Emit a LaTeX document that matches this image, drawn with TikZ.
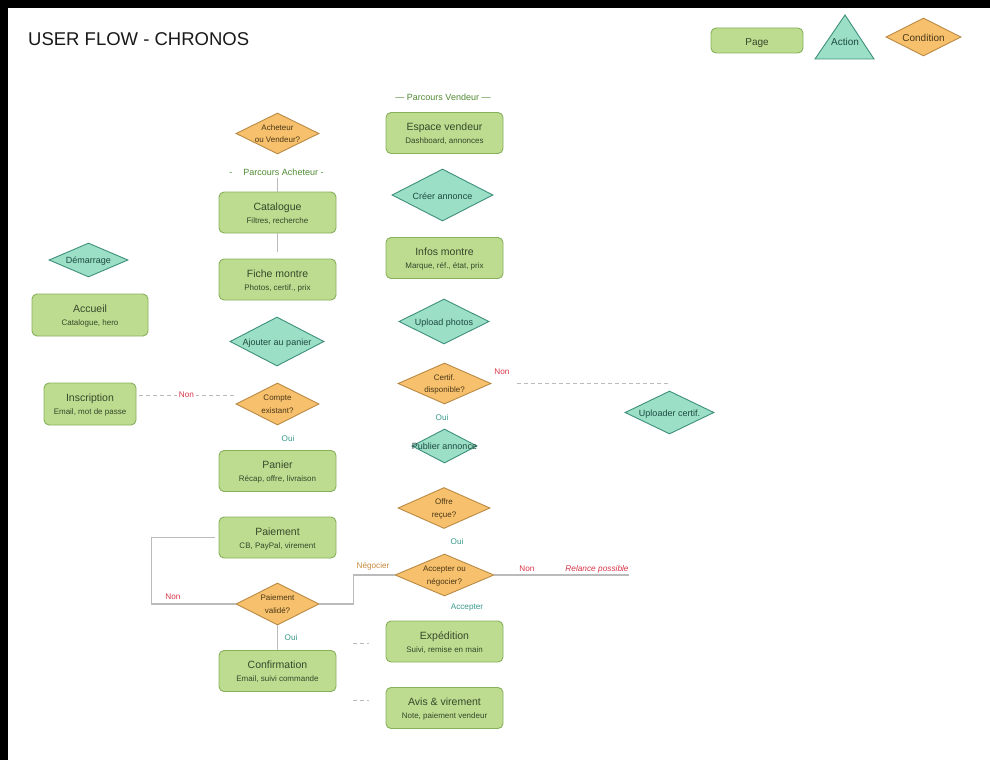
\documentclass[tikz,border=0pt]{standalone}
\usepackage{fontspec}
\setmainfont{Liberation Sans}
\usetikzlibrary{shapes.geometric,calc}
\definecolor{pagef}{HTML}{BEDC90}
\definecolor{pageb}{HTML}{86B05A}
\definecolor{paget}{HTML}{34482A}
\definecolor{actf}{HTML}{9ADFC6}
\definecolor{actb}{HTML}{3E8F7C}
\definecolor{actt}{HTML}{1F4A40}
\definecolor{condf}{HTML}{F7C06C}
\definecolor{condb}{HTML}{B98A45}
\definecolor{condt}{HTML}{4A3818}
\definecolor{lgray}{HTML}{BBBBBB}
\definecolor{nred}{HTML}{D9364A}
\definecolor{oteal}{HTML}{3A9A8C}
\definecolor{negbrown}{HTML}{C98A3C}
\definecolor{pgreen}{HTML}{4F8A32}
\newcommand{\dtx}[2][1.5pt]{\makebox[0pt]{\raisebox{-#1}[\height][\depth]{\begin{tabular}{@{}c@{}}#2\end{tabular}}}}
\newcommand{\pgx}[2]{\raisebox{-1.8pt}[\height][\depth]{\begin{tabular}{@{}c@{}}#1\\{\fontsize{8}{10}\selectfont #2}\end{tabular}}}
\begin{document}
\begin{tikzpicture}[x=1pt,y=-1pt,
  pagebox/.style={draw=pageb, fill=pagef, rounded corners=5pt, minimum width=117pt, minimum height=41pt, inner sep=0pt, align=center, text=paget, font=\fontsize{10.5}{13}\selectfont, line width=0.9pt},
  actd/.style={diamond, draw=actb, fill=actf, inner sep=0pt, text=actt, font=\fontsize{9}{11}\selectfont, line width=0.9pt},
  condd/.style={diamond, draw=condb, fill=condf, inner sep=0pt, text=condt, font=\fontsize{8}{12.5}\selectfont, line width=0.9pt},
  ln/.style={draw=lgray, line width=1.2pt},
  dln/.style={draw=lgray, line width=1pt, dash pattern=on 4pt off 3pt},
  lab/.style={inner sep=1pt, font=\fontsize{8.2}{10}\selectfont},
  labred/.style={lab, text=nred},
  labteal/.style={lab, text=oteal},
  plabel/.style={inner sep=1pt, text=pgreen, font=\fontsize{9}{11}\selectfont}
]
\useasboundingbox (0,0) rectangle (990,760);
\fill[white] (0,0) rectangle (990,760);
\fill[black] (0,0) rectangle (990,8);
\fill[black] (0,0) rectangle (8,760);

% title
\node[anchor=west, inner sep=0pt, text=black!90, font=\fontsize{18.5}{20}\selectfont] (title) at (28,39) {USER FLOW - CHRONOS};

% legend
\node[pagebox, minimum width=92pt, minimum height=25pt, font=\fontsize{10}{12}\selectfont] (lpage) at (757,40.5) {\raisebox{-2.5pt}[\height][\depth]{Page}};
\filldraw[draw=actb, fill=actf, line width=0.9pt] (845,15) -- (874,59) -- (815,59) -- cycle;
\node[inner sep=0pt, text=actt, font=\fontsize{10}{12}\selectfont] (laction) at (845,42) {Action};
\node[condd, minimum width=75pt, minimum height=38pt, font=\fontsize{10}{12}\selectfont] (lcond) at (923.5,37) {\dtx[2pt]{Condition}};

% left / buyer column
\node[condd, minimum width=83pt, minimum height=41pt] (av) at (277.5,133.5) {\dtx[0.5pt]{Acheteur\\ou Vendeur?}};
\node[plabel] (parA) at (276.5,172) {-\hspace{11pt}Parcours Acheteur -};
\coordinate (pa) at (277.5,178);
\node[pagebox] (cat) at (277.5,212.5) {\pgx{Catalogue}{Filtres, recherche}};
\coordinate (cf) at (277.5,252);
\node[pagebox] (fiche) at (277.5,279.5) {\pgx{Fiche montre}{Photos, certif., prix}};
\node[actd, minimum width=94pt, minimum height=49pt] (ajout) at (277,341.5) {\dtx{Ajouter au panier}};
\node[condd, minimum width=83pt, minimum height=42pt] (cmp) at (277.5,404) {\dtx[0.5pt]{Compte\\existant?}};
\node[labteal] (oui1) at (288,439) {Oui};
\node[pagebox] (panier) at (277.5,471) {\pgx{Panier}{Récap, offre, livraison}};
\node[pagebox] (pay) at (277.5,537.5) {\pgx{Paiement}{CB, PayPal, virement}};
\node[condd, minimum width=83pt, minimum height=42pt] (pv) at (277.5,604) {\dtx[0.5pt]{Paiement\\validé?}};
\node[labteal] (oui2) at (291,638) {Oui};
\node[pagebox] (conf) at (277.5,671) {\pgx{Confirmation}{Email, suivi commande}};

\node[actd, minimum width=79pt, minimum height=34pt] (dem) at (88.5,260) {\dtx{Démarrage}};
\node[pagebox, minimum width=116pt, minimum height=42pt] (acc) at (90,315) {\pgx{Accueil}{Catalogue, hero}};
\node[pagebox, minimum width=92pt, minimum height=42pt] (insc) at (90,404) {\pgx{Inscription}{Email, mot de passe}};

% seller column
\node[plabel] (parV) at (443,97) {— Parcours Vendeur —};
\node[pagebox] (esp) at (444.5,133) {\pgx{Espace vendeur}{Dashboard, annonces}};
\node[actd, minimum width=101pt, minimum height=52pt] (creer) at (442.5,195) {\dtx[2.5pt]{Créer annonce}};
\node[pagebox] (infos) at (444.5,258) {\pgx{Infos montre}{Marque, réf., état, prix}};
\node[actd, minimum width=90pt, minimum height=45pt] (upl) at (444,321.5) {\dtx{Upload photos}};
\node[condd, minimum width=93pt, minimum height=41pt] (cert) at (444.5,383.5) {\dtx[0.5pt]{Certif.\\disponible?}};
\node[labred] (non2) at (502,372) {Non};
\node[labteal] (oui3) at (442,418) {Oui};
\node[actd, minimum width=65pt, minimum height=34pt] (pub) at (444.5,446) {\dtx{Publier annonce}};
\node[condd, minimum width=92pt, minimum height=41pt] (offre) at (444,508) {\dtx[0.5pt]{Offre\\reçue?}};
\node[labteal] (oui4) at (457,542) {Oui};
\node[condd, minimum width=99pt, minimum height=42pt] (accn) at (444.5,575) {\dtx[0.5pt]{Accepter ou\\négocier?}};
\node[labteal] (accl) at (467,608) {Accepter};
\node[labred] (non3) at (527,569) {Non};
\node[labred, font=\fontsize{8.3}{10}\selectfont\itshape] (rel) at (597,569) {Relance possible};
\node[lab, text=negbrown] (neg) at (373,566) {Négocier};
\node[labred] (non4) at (173,597) {Non};
\node[actd, minimum width=89pt, minimum height=43pt] (uplc) at (669.5,412.5) {\dtx{Uploader certif.}};
\node[pagebox] (exp) at (444.5,641.5) {\pgx{Expédition}{Suivi, remise en main}};
\node[pagebox] (avis) at (444.5,708) {\pgx{Avis \& virement}{Note, paiement vendeur}};

% connectors
\draw[ln] (pa) -- (cat.north);
\draw[ln] (cat.south) -- (cf);
\coordinate (insE) at (139,395);
\coordinate (cmpW) at (234,395);
\draw[dln] (insE) -- node[labred, fill=white, inner sep=2pt] (non1) {Non} (cmpW);
\draw[ln] ([xshift=-4pt]pay.west) -- ++(-63,0) |- (pv.west);
\draw[ln] (pv.east) -- ++(34,0) |- (accn.west);
\coordinate (relE) at (629,575);
\draw[ln] (accn.east) -- (relE);
\draw[ln] (pv.south) -- (conf.north);
\coordinate (d1a) at (353,643); \coordinate (d1b) at (369,643);
\coordinate (d2a) at (353,700); \coordinate (d2b) at (369,700);
\draw[dln] (d1a) -- (d1b);
\draw[dln] (d2a) -- (d2b);
\coordinate (certE) at ($(cert.east)+(26,0)$);
\coordinate (uplN) at ($(uplc.north)+(0,-8)$);
\draw[dln] (certE) -- (certE -| uplN);
\end{tikzpicture}
\end{document}
